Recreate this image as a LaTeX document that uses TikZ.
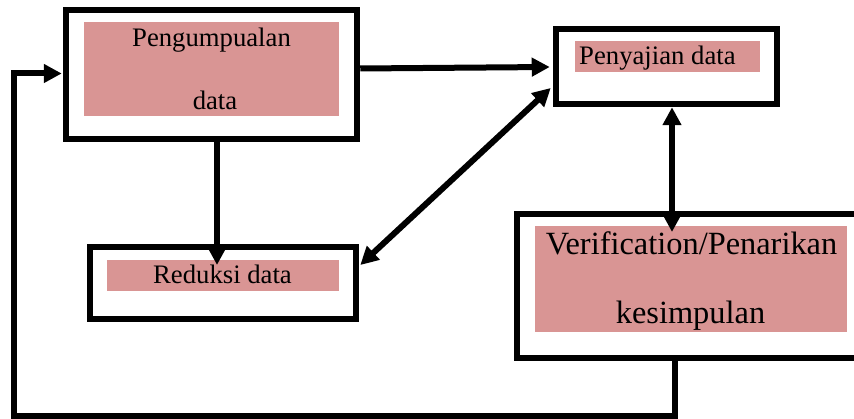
\documentclass[tikz,border=0pt]{standalone}
\usepackage{fontspec}
\setmainfont{Liberation Serif}
\usetikzlibrary{arrows.meta}
\definecolor{pinkfill}{HTML}{D99594}
\begin{document}
\begin{tikzpicture}[x=1pt,y=-1pt,
  box/.style={draw, line width=6.5pt, inner sep=0pt},
  pinkbox/.style={fill=pinkfill, draw=none, inner sep=0pt},
  txt/.style={inner sep=0pt, anchor=base, font=\fontsize{26.7}{30}\selectfont},
  bigtxt/.style={inner sep=0pt, anchor=base, font=\fontsize{32.4}{36}\selectfont},
  conn/.style={line width=6pt, -{Triangle[length=18pt,width=18pt]}},
  dconn/.style={line width=6pt, {Triangle[length=18pt,width=18pt]}-{Triangle[length=18pt,width=18pt]}},
  loop/.style={line width=6pt, -{Triangle[length=18pt,width=18pt]}}]
\useasboundingbox (0,0) rectangle (854,419);
\clip (0,0) rectangle (854,419);
% boxes
\node[box, minimum width=291pt, minimum height=129pt] (b1) at (211.5,74.5) {};
\node[box, minimum width=221pt, minimum height=75pt] (b2) at (666.5,66.5) {};
\node[box, minimum width=266pt, minimum height=72pt] (b3) at (223,283) {};
\node[box, minimum width=343pt, minimum height=144pt] (b4) at (688.5,286) {};
% pink fills
\node[pinkbox, minimum width=255pt, minimum height=94pt] (p1) at (211.5,69) {};
\node[pinkbox, minimum width=185pt, minimum height=31pt] (p2) at (667.5,56.5) {};
\node[pinkbox, minimum width=232pt, minimum height=31pt] (p3) at (223,275.5) {};
\node[pinkbox, minimum width=312pt, minimum height=106pt] (p4) at (691,279) {};
% texts
\node[txt] (t1a) at (211.5,47) {Pengumpualan};
\node[txt] (t1b) at (215,110) {data};
\node[txt, anchor=base west] (t2) at (579,65) {Penyajian data};
\node[txt] (t3) at (222.5,284) {Reduksi data};
\node[bigtxt] (t4a) at (691.5,255) {Verification/Penarikan};
\node[bigtxt] (t4b) at (690.5,324) {kesimpulan};
% helper coordinates
\coordinate (e3) at (217,265);
\coordinate (e4) at (672,232);
\coordinate (c1) at (675,416);
\coordinate (c2) at (13.5,416);
\coordinate (c3) at (13.5,73.5);
% connectors
\draw[conn] ([yshift=6pt]b1.east) -- ([yshift=-0.5pt,xshift=-3pt]b2.west);
\draw[conn] ([xshift=5.5pt]b1.south) -- (e3);
\draw[dconn] ([yshift=-21.5pt,xshift=-2pt]b2.west) -- ([yshift=18pt,xshift=1pt]b3.east);
\draw[dconn] ([xshift=5.5pt]b2.south) -- (e4);
\draw[loop] ([xshift=-13.5pt]b4.south) -- (c1) -- (c2) -- (c3) -- ([yshift=1pt,xshift=-1pt]b1.west);
\end{tikzpicture}
\end{document}
